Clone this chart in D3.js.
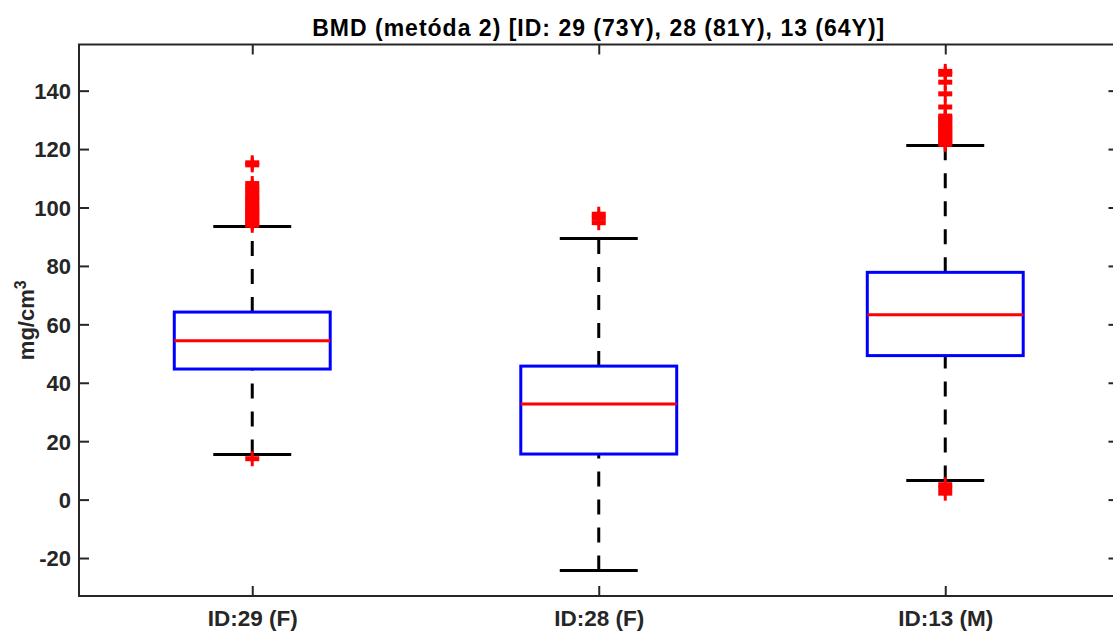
<!DOCTYPE html>
<html><head><meta charset="utf-8">
<script src="https://cdn.jsdelivr.net/npm/d3@7"></script>
<style>
body{margin:0;background:#fff}
svg{display:block}
text{font-family:"Liberation Sans",Arial,Helvetica,sans-serif;font-weight:bold}
</style>
</head><body>
<svg id="c" width="1113" height="632"></svg>
<script>
// ---- data ----
const categories   = ["ID:29 (F)", "ID:28 (F)", "ID:13 (M)"];
const lowerWhisker = [15.4, -24.3, 6.5];
const q1           = [44.7, 15.6, 49.3];
const median       = [54.4, 32.7, 63.3];
const q3           = [64.2, 45.7, 77.8];
const upperWhisker = [93.5, 89.4, 121.2];
const outliers29   = [14.0, 93.9, 94.7, 95.4, 96.2, 97.1, 97.9, 98.6, 99.5, 100.3, 101.2, 102.2, 103.1, 104.0, 105.0, 106.1, 107.0, 108.2, 114.6, 115.3];
const outliers28   = [94.8, 96.4, 97.7];
const outliers13   = [2.2, 3.8, 5.1, 121.6, 122.4, 123.1, 123.9, 124.8, 125.5, 126.4, 127.2, 128.1, 128.9, 129.8, 130.6, 131.3, 134.4, 138.9, 142.9, 145.6, 146.6];
const outliers     = [outliers29, outliers28, outliers13];
const yTicks       = [-20, 0, 20, 40, 60, 80, 100, 120, 140];
const yDomain      = [-33.0, 155.8];
const titleText    = "BMD (metóda 2) [ID: 29 (73Y), 28 (81Y), 13 (64Y)]";
const yLabelText   = "mg/cm";
const yLabelSup    = "3";

// ---- layout ----
const mL = 79, mR = 1118.5, mT = 44.5, mB = 596;
const axisColor = "#262626";

const svg = d3.select("#c");
const x = d3.scaleLinear().domain([0.5, 3.5]).range([mL, mR]);
const y = d3.scaleLinear().domain(yDomain).range([mB, mT]);
const boxHalf = 0.225, capHalf = 0.1125;

// axes box
svg.append("rect").attr("x", mL).attr("y", mT).attr("width", mR - mL).attr("height", mB - mT)
  .attr("fill", "none").attr("stroke", axisColor).attr("stroke-width", 2);

// left axis (ticks inward)
const gy = svg.append("g").attr("transform", `translate(${mL},0)`)
  .call(d3.axisLeft(y).tickValues(yTicks).tickSize(-10).tickFormat(d => String(d)));
gy.select(".domain").remove();
gy.selectAll(".tick line").attr("stroke", axisColor).attr("stroke-width", 2);
gy.selectAll(".tick text").attr("fill", axisColor).style("font-size", "22px").attr("x", -8).attr("dy", "0.36em");
// right axis ticks
const gyr = svg.append("g").attr("transform", `translate(${mR},0)`)
  .call(d3.axisRight(y).tickValues(yTicks).tickSize(-10).tickFormat(""));
gyr.select(".domain").remove();
gyr.selectAll(".tick line").attr("stroke", axisColor).attr("stroke-width", 2);

// bottom axis
const gx = svg.append("g").attr("transform", `translate(0,${mB})`)
  .call(d3.axisBottom(x).tickValues([1, 2, 3]).tickSize(-10).tickFormat(d => categories[d - 1]));
gx.select(".domain").remove();
gx.selectAll(".tick line").attr("stroke", axisColor).attr("stroke-width", 2);
gx.selectAll(".tick text").attr("fill", axisColor).style("font-size", "22.5px").attr("y", 30).attr("dy", "0");
// top ticks
const gxt = svg.append("g").attr("transform", `translate(0,${mT})`)
  .call(d3.axisTop(x).tickValues([1, 2, 3]).tickSize(-10).tickFormat(""));
gxt.select(".domain").remove();
gxt.selectAll(".tick line").attr("stroke", axisColor).attr("stroke-width", 2);

// title
svg.append("text").attr("x", (mL + mR) / 2).attr("y", 35.5).attr("text-anchor", "middle")
  .attr("fill", "#000").style("font-size", "23px").style("letter-spacing", "1px").text(titleText);

// y label
const yl = svg.append("text").attr("transform", `translate(33.5,${(mT + mB) / 2}) rotate(-90)`)
  .attr("text-anchor", "middle").attr("fill", axisColor).style("font-size", "22px");
yl.append("tspan").text(yLabelText);
yl.append("tspan").attr("dy", -8).style("font-size", "16px").text(yLabelSup);

// boxes
const idx = d3.range(categories.length);
const g = svg.append("g");
g.append("g").selectAll("line").data(idx).join("line")
  .attr("x1", i => x(i + 1)).attr("x2", i => x(i + 1))
  .attr("y1", i => y(q3[i])).attr("y2", i => y(upperWhisker[i]))
  .attr("stroke", "#000").attr("stroke-width", 3).attr("stroke-dasharray", "15,13");
g.append("g").selectAll("line").data(idx).join("line")
  .attr("x1", i => x(i + 1)).attr("x2", i => x(i + 1))
  .attr("y1", i => y(lowerWhisker[i])).attr("y2", i => y(q1[i]))
  .attr("stroke", "#000").attr("stroke-width", 3).attr("stroke-dasharray", "15,13");
[upperWhisker, lowerWhisker].forEach(arr => {
  g.append("g").selectAll("line").data(idx).join("line")
    .attr("x1", i => x(i + 1 - capHalf)).attr("x2", i => x(i + 1 + capHalf))
    .attr("y1", i => y(arr[i])).attr("y2", i => y(arr[i]))
    .attr("stroke", "#000").attr("stroke-width", 3);
});
g.append("g").selectAll("rect").data(idx).join("rect")
  .attr("x", i => x(i + 1 - boxHalf)).attr("width", i => x(i + 1 + boxHalf) - x(i + 1 - boxHalf))
  .attr("y", i => y(q3[i])).attr("height", i => y(q1[i]) - y(q3[i]))
  .attr("fill", "none").attr("stroke", "#0000ff").attr("stroke-width", 3);
g.append("g").selectAll("line").data(idx).join("line")
  .attr("x1", i => x(i + 1 - boxHalf)).attr("x2", i => x(i + 1 + boxHalf))
  .attr("y1", i => y(median[i])).attr("y2", i => y(median[i]))
  .attr("stroke", "#ff0000").attr("stroke-width", 3);
const pts = [];
outliers.forEach((arr, i) => arr.forEach(v => pts.push({ i, v })));
const og = g.append("g").selectAll("g").data(pts).join("g")
  .attr("transform", d => `translate(${x(d.i + 1)},${y(d.v)})`);
og.append("line").attr("x1", -7).attr("x2", 7).attr("y1", 0).attr("y2", 0).attr("stroke", "#ff0000").attr("stroke-width", 5);
og.append("line").attr("x1", 0).attr("x2", 0).attr("y1", -7.5).attr("y2", 7.5).attr("stroke", "#ff0000").attr("stroke-width", 3);
</script>
</body></html>
